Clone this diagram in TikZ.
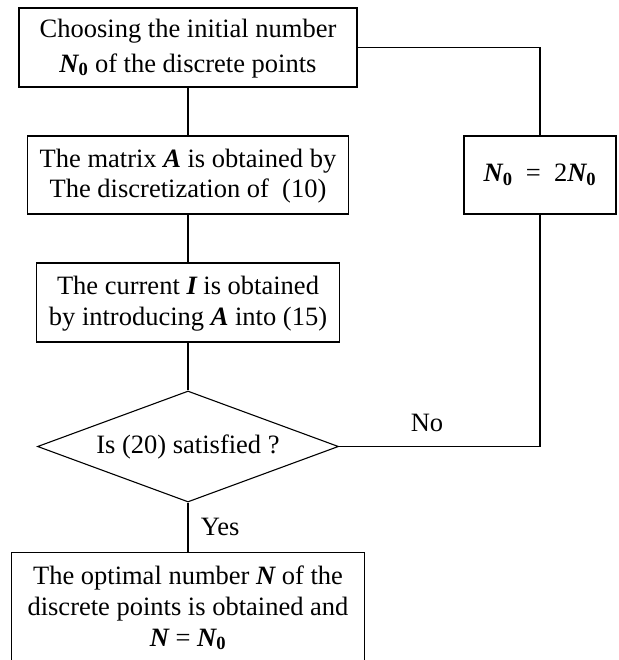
\documentclass[tikz,border=0pt]{standalone}
\usepackage{fontspec}
\setmainfont{Liberation Serif}
\usepackage{tikz}
\usetikzlibrary{shapes.geometric, positioning}

\newcommand{\bN}{{\bfseries\itshape N}}
\newcommand{\bNo}{{\bfseries\itshape N}\textsubscript{\bfseries 0}}

\begin{document}
\begin{tikzpicture} [x = 1pt, y = -1pt, line width = 1.1pt,
		font = \fontsize{26.5}{31}\selectfont,
		blk/.style = {draw, rectangle, align = center, inner sep = 0pt, text depth = 4pt},
		test/.style = {draw, diamond, aspect = 2.7, align = center, inner sep = 0pt}]
		% Help grid
		%	\draw [help lines] (0,0) grid [step = 50] (618,660);
		\useasboundingbox (0,0) rectangle (618,660);

		% Start Node : the others hang under it
		\node (init) [blk, minimum width = 338pt, minimum height = 79pt, font = \fontsize{26.5}{35}\selectfont]
		at (188,47.5) {Choosing the initial number\\ \bNo{} of the discrete points};

		% Middle Nodes
		\node (mat) [blk, minimum width = 321pt, minimum height = 78pt, font = \fontsize{26.5}{30}\selectfont]
		at (188,175) {The matrix {\bfseries\itshape A} is obtained by\\ The discretization of\ \ (10)};
		\node (cur) [blk, minimum width = 303pt, minimum height = 79pt] at (188,302.5)
		{The current {\bfseries\itshape I} is obtained\\ by introducing {\bfseries\itshape A} into (15)};
		\node (chk) [test, minimum width = 301pt, minimum height = 111pt] at (188,446.5)
		{Is (20) satisfied ?};
		\node (dbl) [blk, minimum width = 152pt, minimum height = 78pt] at (540,175)
		{\bNo\ \ =\ \ 2\bNo};

		% Final Node (cut off by the page edge)
		\node (opt) [blk, minimum width = 353pt, inner ysep = 13pt, text depth = 30pt, anchor = north] at (188,552)
		{The optimal number \bN{} of the\\ discrete points is obtained and\\ \bN{} = \bNo};
		\node (no) at (427,423) {No};

		% Draw Connections
		\draw (init.south) -- (mat.north);
		\draw (mat.south) -- (cur.north);
		\draw (cur.south) -- (chk.north);
		\draw (chk.south) -- node [right = 9pt] {Yes} (opt.north);
		\draw (chk.east) -| (dbl.south);
		\draw (init.east) -| (dbl.north);
	\end{tikzpicture}
\end{document}
